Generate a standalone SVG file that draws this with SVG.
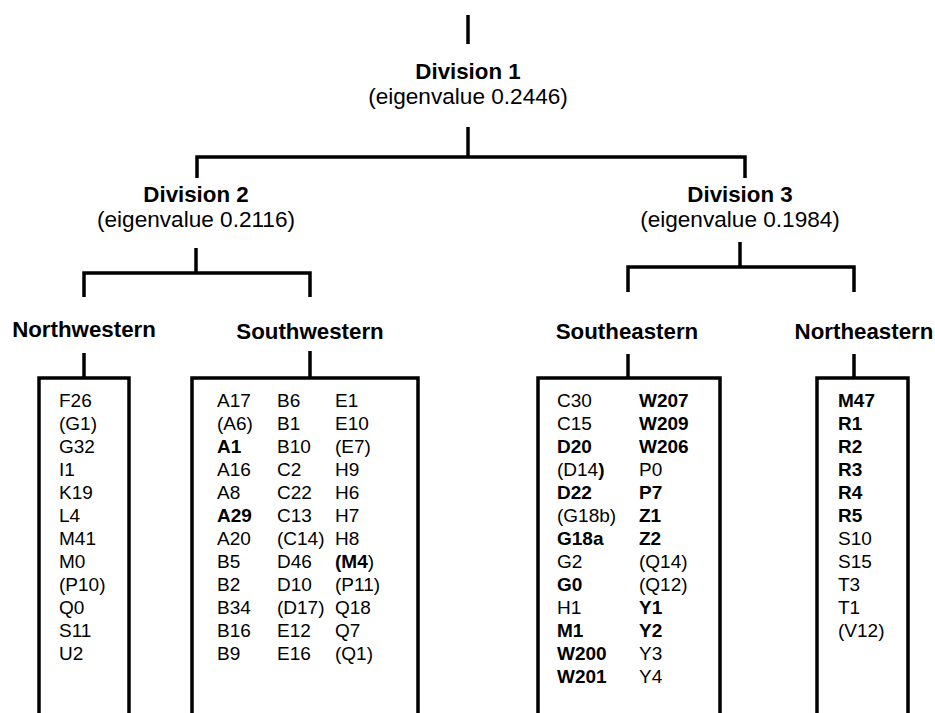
<svg xmlns="http://www.w3.org/2000/svg" width="935" height="713" viewBox="0 0 935 713">
<style>
.ln{stroke:#000;stroke-width:3.5;fill:none;stroke-linecap:butt}
text{font-family:"Liberation Sans",Arial,Helvetica,sans-serif;fill:#000}
.hd{font-weight:bold;font-size:22.3px;text-anchor:middle}
.ev{font-size:22.6px;text-anchor:middle}
.it{font-size:19px}
.b{font-weight:bold}
</style>
<rect width="935" height="713" fill="#fff"/>
<g id="connectors" class="ln">
<path d="M468 15V44"/>
<path d="M468 127V157"/>
<path d="M197 178V157H745V178"/>
<path d="M196 248V273"/>
<path d="M84 297V273H310V297"/>
<path d="M740 242V267"/>
<path d="M628 292V267H854V292"/>
<path d="M84 353V378"/>
<path d="M310 351V378"/>
<path d="M628 354V378"/>
<path d="M854 354V378"/>
</g>
<g id="node-div1">
<text class="hd" x="468" y="79">Division 1</text>
<text class="ev" x="468" y="104">(eigenvalue 0.2446)</text>
</g>
<g id="node-div2">
<text class="hd" x="196" y="202">Division 2</text>
<text class="ev" x="196" y="227">(eigenvalue 0.2116)</text>
</g>
<g id="node-div3">
<text class="hd" x="740" y="202">Division 3</text>
<text class="ev" x="740" y="227">(eigenvalue 0.1984)</text>
</g>
<g id="node-northwestern">
<text class="hd" x="84" y="337">Northwestern</text>
<path class="ln" d="M39 713V378H129V713"/>
<text class="it" x="59" y="407">F26</text>
<text class="it" x="59" y="430">(G1)</text>
<text class="it" x="59" y="453">G32</text>
<text class="it" x="59" y="476">I1</text>
<text class="it" x="59" y="499">K19</text>
<text class="it" x="59" y="522">L4</text>
<text class="it" x="59" y="545">M41</text>
<text class="it" x="59" y="568">M0</text>
<text class="it" x="59" y="591">(P10)</text>
<text class="it" x="59" y="614">Q0</text>
<text class="it" x="59" y="637">S11</text>
<text class="it" x="59" y="660">U2</text>
</g>
<g id="node-southwestern">
<text class="hd" x="310" y="339">Southwestern</text>
<path class="ln" d="M192 713V378H418V713"/>
<text class="it" x="217" y="407">A17</text>
<text class="it" x="217" y="430">(A6)</text>
<text class="it b" x="217" y="453">A1</text>
<text class="it" x="217" y="476">A16</text>
<text class="it" x="217" y="499">A8</text>
<text class="it b" x="217" y="522">A29</text>
<text class="it" x="217" y="545">A20</text>
<text class="it" x="217" y="568">B5</text>
<text class="it" x="217" y="591">B2</text>
<text class="it" x="217" y="614">B34</text>
<text class="it" x="217" y="637">B16</text>
<text class="it" x="217" y="660">B9</text>
<text class="it" x="277" y="407">B6</text>
<text class="it" x="277" y="430">B1</text>
<text class="it" x="277" y="453">B10</text>
<text class="it" x="277" y="476">C2</text>
<text class="it" x="277" y="499">C22</text>
<text class="it" x="277" y="522">C13</text>
<text class="it" x="277" y="545">(C14)</text>
<text class="it" x="277" y="568">D46</text>
<text class="it" x="277" y="591">D10</text>
<text class="it" x="277" y="614">(D17)</text>
<text class="it" x="277" y="637">E12</text>
<text class="it" x="277" y="660">E16</text>
<text class="it" x="335" y="407">E1</text>
<text class="it" x="335" y="430">E10</text>
<text class="it" x="335" y="453">(E7)</text>
<text class="it" x="335" y="476">H9</text>
<text class="it" x="335" y="499">H6</text>
<text class="it" x="335" y="522">H7</text>
<text class="it" x="335" y="545">H8</text>
<text class="it" x="335" y="568"><tspan class="b">(M4</tspan>)</text>
<text class="it" x="335" y="591">(P11)</text>
<text class="it" x="335" y="614">Q18</text>
<text class="it" x="335" y="637">Q7</text>
<text class="it" x="335" y="660">(Q1)</text>
</g>
<g id="node-southeastern">
<text class="hd" x="627" y="339">Southeastern</text>
<path class="ln" d="M538 713V378H720V713"/>
<text class="it" x="557" y="407">C30</text>
<text class="it" x="557" y="430">C15</text>
<text class="it b" x="557" y="453">D20</text>
<text class="it" x="557" y="476">(D14<tspan class="b">)</tspan></text>
<text class="it b" x="557" y="499">D22</text>
<text class="it" x="557" y="522">(G18b)</text>
<text class="it b" x="557" y="545">G18a</text>
<text class="it" x="557" y="568">G2</text>
<text class="it b" x="557" y="591">G0</text>
<text class="it" x="557" y="614">H1</text>
<text class="it b" x="557" y="637">M1</text>
<text class="it b" x="557" y="660">W200</text>
<text class="it b" x="557" y="683">W201</text>
<text class="it b" x="639" y="407">W207</text>
<text class="it b" x="639" y="430">W209</text>
<text class="it b" x="639" y="453">W206</text>
<text class="it" x="639" y="476">P0</text>
<text class="it b" x="639" y="499">P7</text>
<text class="it b" x="639" y="522">Z1</text>
<text class="it b" x="639" y="545">Z2</text>
<text class="it" x="639" y="568">(Q14)</text>
<text class="it" x="639" y="591">(Q12)</text>
<text class="it b" x="639" y="614">Y1</text>
<text class="it b" x="639" y="637">Y2</text>
<text class="it" x="639" y="660">Y3</text>
<text class="it" x="639" y="683">Y4</text>
</g>
<g id="node-northeastern">
<text class="hd" x="864" y="339">Northeastern</text>
<path class="ln" d="M817 713V378H908V713"/>
<text class="it b" x="838" y="407">M47</text>
<text class="it b" x="838" y="430">R1</text>
<text class="it b" x="838" y="453">R2</text>
<text class="it b" x="838" y="476">R3</text>
<text class="it b" x="838" y="499">R4</text>
<text class="it b" x="838" y="522">R5</text>
<text class="it" x="838" y="545">S10</text>
<text class="it" x="838" y="568">S15</text>
<text class="it" x="838" y="591">T3</text>
<text class="it" x="838" y="614">T1</text>
<text class="it" x="838" y="637">(V12)</text>
</g>
</svg>
